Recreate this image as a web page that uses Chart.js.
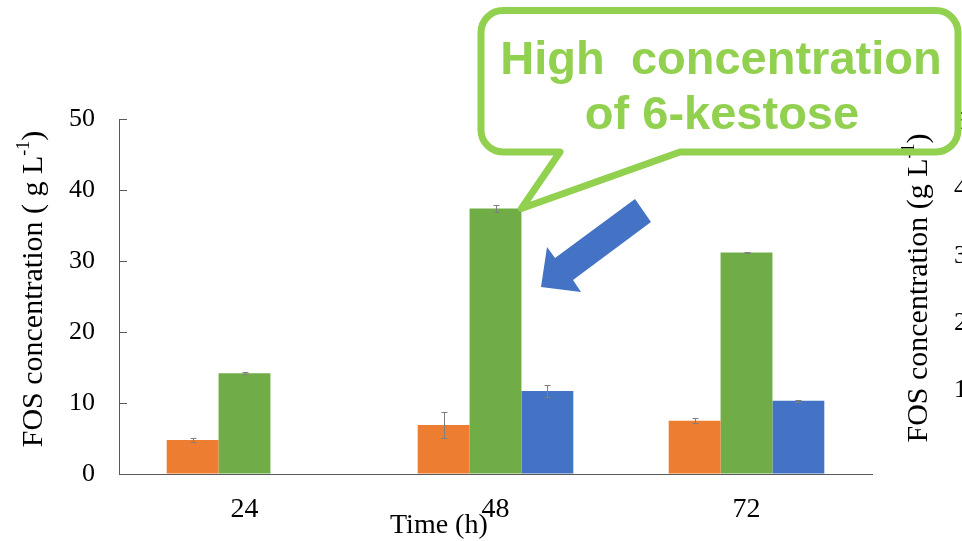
<!DOCTYPE html>
<html>
<head>
<meta charset="utf-8">
<script src="https://cdn.jsdelivr.net/npm/chart.js@4.4.0/dist/chart.umd.min.js"></script>
<style>
  html, body { margin: 0; background: #fff; }
  #wrap { width: 962px; height: 541px; position: relative; }
</style>
</head>
<body>
<div id="wrap"><canvas id="chart"></canvas></div>
<script>
// sampling times (h)
const times = ['24', '48', '72'];

// FOS concentration (g/L) and error bars
const orangeVals = [4.8, 6.9, 7.5];
const orangeErr = [0.3, 1.8, 0.35];
const greenVals = [14.2, 37.4, 31.2];
const greenErr = [0.15, 0.5, 0.1];
const blueVals = [null, 11.7, 10.3];
const blueErr = [0, 0.8, 0.1];

// tick labels of the neighbouring (cropped) panel on the right
const rightTickLabels = ['1', '2', '3', '4', '5'];

const serif = '"Liberation Serif", "Times New Roman", serif';

// error bars drawn from the y scale
const errorBars = {
  id: 'errorBars',
  afterDatasetsDraw(chart) {
    const ctx = chart.ctx;
    const yScale = chart.scales.y;
    ctx.save();
    ctx.strokeStyle = '#7f7f7f';
    ctx.lineWidth = 1;
    chart.data.datasets.forEach((ds, i) => {
      const meta = chart.getDatasetMeta(i);
      meta.data.forEach((bar, j) => {
        const v = ds.data[j];
        const e = ds.err[j];
        if (v == null || !e) return;
        const top = Math.round(yScale.getPixelForValue(v + e)) + 0.5;
        const bot = Math.round(yScale.getPixelForValue(v - e)) + 0.5;
        const x = Math.round(bar.x) + 0.5;
        ctx.beginPath();
        ctx.moveTo(x, top); ctx.lineTo(x, bot);
        ctx.moveTo(x - 3, top); ctx.lineTo(x + 3, top);
        ctx.moveTo(x - 3, bot); ctx.lineTo(x + 3, bot);
        ctx.stroke();
      });
    });
    ctx.restore();
  }
};

// vertical title with a superscript, centred on cy
function verticalTitle(ctx, x, cy, main, sup, tail, size) {
  ctx.save();
  ctx.fillStyle = '#000';
  ctx.textBaseline = 'alphabetic';
  ctx.textAlign = 'left';
  const big = size + 'px ' + serif;
  const small = Math.round(size * 0.6) + 'px ' + serif;
  ctx.font = big;
  const w1 = ctx.measureText(main).width;
  const w3 = ctx.measureText(tail).width;
  ctx.font = small;
  const w2 = ctx.measureText(sup).width;
  const total = w1 + w2 + w3;
  ctx.translate(x, cy + total / 2);
  ctx.rotate(-Math.PI / 2);
  ctx.font = big;
  ctx.fillText(main, 0, 0);
  ctx.font = small;
  ctx.fillText(sup, w1, -size * 0.42);
  ctx.font = big;
  ctx.fillText(tail, w1 + w2, 0);
  ctx.restore();
}

const overlay = {
  id: 'overlay',
  afterDraw(chart) {
    const ctx = chart.ctx;

    // axis titles
    verticalTitle(ctx, 42, 289, 'FOS concentration ( g L', '-1', ')', 30);
    ctx.save();
    ctx.fillStyle = '#000';
    ctx.font = '28px ' + serif;
    ctx.textAlign = 'left';
    ctx.textBaseline = 'alphabetic';
    ctx.fillText('Time (h)', 390, 533);
    ctx.restore();

    // cropped right-hand panel
    verticalTitle(ctx, 927, 288, 'FOS concentration (g L', '-1', ')', 30);
    ctx.save();
    ctx.fillStyle = '#000';
    ctx.font = '26px ' + serif;
    ctx.textAlign = 'left';
    ctx.textBaseline = 'middle';
    rightTickLabels.forEach((t, i) => {
      ctx.fillText(t, 954, 390 - i * 67);
    });
    ctx.restore();

    // callout pointing at the 48 h green bar
    const bar = chart.getDatasetMeta(1).data[1];
    const tipX = bar.x + bar.width / 2;
    const tipY = bar.y;
    const L = 481, T = 10.5, R = 958, B = 152, r = 22;
    ctx.save();
    ctx.strokeStyle = '#92D050';
    ctx.lineWidth = 7;
    ctx.lineJoin = 'round';
    ctx.beginPath();
    ctx.moveTo(L + r, T);
    ctx.lineTo(R - r, T);
    ctx.arcTo(R, T, R, T + r, r);
    ctx.lineTo(R, B - r);
    ctx.arcTo(R, B, R - r, B, r);
    ctx.lineTo(680, B);
    ctx.lineTo(tipX, tipY);
    ctx.lineTo(560, B);
    ctx.lineTo(L + r, B);
    ctx.arcTo(L, B, L, B - r, r);
    ctx.lineTo(L, T + r);
    ctx.arcTo(L, T, L + r, T, r);
    ctx.closePath();
    ctx.stroke();
    ctx.fillStyle = '#92D050';
    ctx.font = 'bold 47px "Liberation Sans", Arial, sans-serif';
    ctx.textAlign = 'center';
    ctx.textBaseline = 'alphabetic';
    ctx.fillText('High  concentration', 721, 74);
    ctx.fillText('of 6-kestose', 722, 129);
    ctx.restore();

    // blue arrow
    ctx.save();
    ctx.fillStyle = '#4472C4';
    ctx.beginPath();
    ctx.moveTo(635, 199);
    ctx.lineTo(651, 222);
    ctx.lineTo(573, 280);
    ctx.lineTo(581, 292);
    ctx.lineTo(541, 287);
    ctx.lineTo(547, 247);
    ctx.lineTo(555, 258);
    ctx.closePath();
    ctx.fill();
    ctx.restore();
  }
};

new Chart(document.getElementById('chart'), {
  type: 'bar',
  data: {
    labels: times,
    datasets: [
      { label: 'A', data: orangeVals, err: orangeErr, backgroundColor: '#ED7D31' },
      { label: 'B', data: greenVals, err: greenErr, backgroundColor: '#70AD47' },
      { label: 'C', data: blueVals, err: blueErr, backgroundColor: '#4472C4' }
    ]
  },
  options: {
    responsive: true,
    maintainAspectRatio: false,
    animation: false,
    layout: { padding: { top: 119, right: 90, left: 0, bottom: 0 } },
    datasets: { bar: { categoryPercentage: 0.62, barPercentage: 1, borderWidth: 0 } },
    plugins: { legend: { display: false }, tooltip: { enabled: false } },
    scales: {
      x: {
        grid: { display: false },
        border: { display: true, color: '#595959', width: 1 },
        ticks: { color: '#000', padding: 11, font: { family: serif, size: 28 } },
        afterFit: (s) => { s.height = 67; }
      },
      y: {
        min: 0,
        max: 50,
        ticks: { stepSize: 10, color: '#000', padding: 32, font: { family: serif, size: 26 } },
        grid: { drawOnChartArea: false, drawTicks: true, tickLength: -8, color: '#595959' },
        border: { display: true, color: '#595959', width: 1 },
        afterFit: (s) => { s.width = 119; }
      }
    }
  },
  plugins: [errorBars, overlay]
});
</script>
</body>
</html>
